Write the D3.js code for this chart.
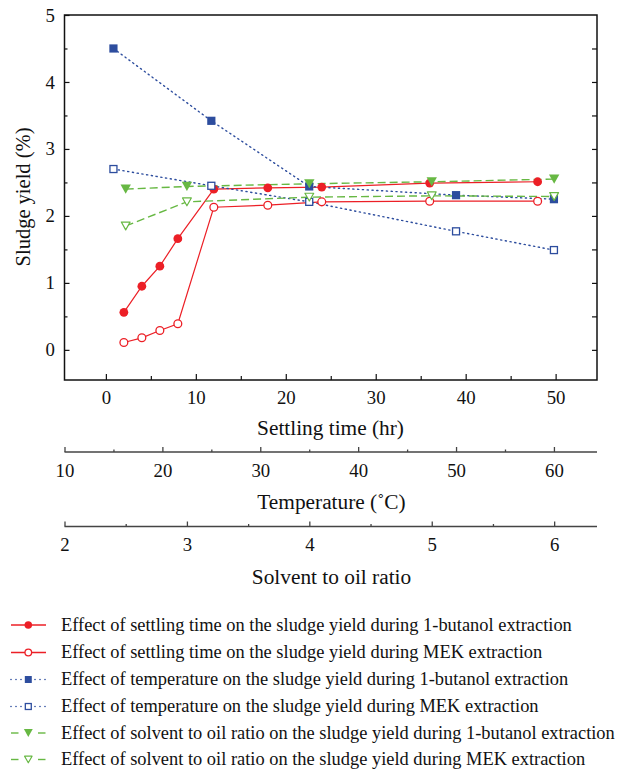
<!DOCTYPE html>
<html><head><meta charset="utf-8">
<script src="https://cdn.jsdelivr.net/npm/d3@7"></script>
<style>
html,body{margin:0;padding:0;background:#fff;}
</style></head>
<body><svg id="c" width="628" height="771"></svg>
<script>
// ---- data ----
const settlingTime = [2, 4, 6, 8, 12, 18, 24, 36, 48];
const butanolSettling = [0.56, 0.95, 1.25, 1.66, 2.40, 2.42, 2.43, 2.49, 2.51];
const mekSettling = [0.11, 0.18, 0.29, 0.39, 2.13, 2.16, 2.21, 2.22, 2.22];
const temperature = [15, 25, 35, 50, 60];
const butanolTemp = [4.50, 3.42, 2.44, 2.31, 2.25];
const mekTemp = [2.70, 2.45, 2.21, 1.77, 1.49];
const solventRatio = [2.5, 3, 4, 5, 6];
const butanolSolvent = [2.40, 2.44, 2.48, 2.51, 2.55];
const mekSolvent = [1.85, 2.21, 2.28, 2.30, 2.29];
const yTicks = [0, 1, 2, 3, 4, 5];
const settlingTicks = [0, 10, 20, 30, 40, 50];
const tempTicks = [10, 20, 30, 40, 50, 60];
const ratioTicks = [2, 3, 4, 5, 6];
const legendLabels = [
  "Effect of settling time on the sludge yield during 1-butanol extraction",
  "Effect of settling time on the sludge yield during MEK extraction",
  "Effect of temperature on the sludge yield during 1-butanol extraction",
  "Effect of temperature on the sludge yield during MEK extraction",
  "Effect of solvent to oil ratio on the sludge yield during 1-butanol extraction",
  "Effect of solvent to oil ratio on the sludge yield during MEK extraction"
];

const FONT = "'Liberation Serif'";
const RED = "#ec1f26", BLUE = "#2d4d9e", GREEN = "#67b843";
const L = 64.5, R = 597, T = 15, B = 380;
const svg = d3.select("#c");

function fitSize(str, target, base) {
  const t = svg.append("text").style("font-family", FONT).attr("font-size", base).text(str);
  const w = t.node().getComputedTextLength();
  t.remove();
  return base * target / w;
}
const legendSize = fitSize(legendLabels[4], 554, 16);
const titleSize = fitSize("Settling time (hr)", 147, 16);
const yTitleSize = fitSize("Sludge yield (%)", 139, 16);
const tickSize = fitSize("50", 18.8, 16);

const y = d3.scaleLinear().domain([-0.45, 5]).range([B, T]);
const xS = d3.scaleLinear().domain([-4.6, 54.6]).range([L, R]);
const xT = d3.scaleLinear().domain([10, 64.4]).range([L, R]);
const xR = d3.scaleLinear().domain([2, 6.35]).range([L, R]);

function styleAxis(g, col) {
  g.attr("font-family", null);
  g.select(".domain").remove();
  g.selectAll("line").attr("stroke", col).attr("stroke-width", 1.2);
  g.selectAll("text").attr("font-size", tickSize).style("font-family", FONT).attr("fill", "#111");
}

styleAxis(svg.append("g").attr("transform", `translate(${L},0)`)
  .call(d3.axisLeft(y).tickValues(yTicks).tickSize(-5).tickPadding(9.5).tickFormat(d3.format("d"))), "#111");
styleAxis(svg.append("g").attr("transform", `translate(${L},0)`)
  .call(d3.axisLeft(y).tickValues([0.5, 1.5, 2.5, 3.5, 4.5]).tickSize(-3).tickFormat("")), "#111");
styleAxis(svg.append("g").attr("transform", `translate(${R},0)`)
  .call(d3.axisRight(y).tickValues(d3.range(0, 5, 0.5)).tickSize(-5).tickFormat("")), "#111");

styleAxis(svg.append("g").attr("transform", `translate(0,${B})`)
  .call(d3.axisBottom(xS).tickValues(settlingTicks).tickSize(-6).tickPadding(10.5).tickFormat(d3.format("d"))), "#111");
styleAxis(svg.append("g").attr("transform", `translate(0,${B})`)
  .call(d3.axisBottom(xS).tickValues([5, 15, 25, 35, 45]).tickSize(-4).tickFormat("")), "#111");

svg.append("rect").attr("x", L).attr("y", T).attr("width", R - L).attr("height", B - T)
  .attr("fill", "none").attr("stroke", "#111").attr("stroke-width", 1.5);

function title(x, yy, txt, rot, size) {
  const t = svg.append("text").attr("text-anchor", "middle").attr("font-size", size || titleSize)
    .style("font-family", FONT).attr("fill", "#111").text(txt);
  if (rot) t.attr("transform", `translate(${x},${yy}) rotate(-90)`);
  else t.attr("x", x).attr("y", yy);
}
title(330.5, 435, "Settling time (hr)");

function extraAxis(scale, yy, major, minor, titleY, txt) {
  const g = svg.append("g").attr("transform", `translate(0,${yy})`)
    .call(d3.axisBottom(scale).tickValues(major).tickSize(-5).tickPadding(11.5).tickFormat(d3.format("d")));
  styleAxis(g, "#444");
  g.selectAll("line").attr("stroke-width", 1.3);
  const m = svg.append("g").attr("transform", `translate(0,${yy})`)
    .call(d3.axisBottom(scale).tickValues(minor).tickSize(-2.5).tickFormat(""));
  styleAxis(m, "#444");
  m.selectAll("line").attr("stroke-width", 1.3);
  svg.append("line").attr("x1", L).attr("x2", R).attr("y1", yy).attr("y2", yy)
    .attr("stroke", "#444").attr("stroke-width", 1.6);
  title(331.5, titleY, txt);
}
extraAxis(xT, 452, tempTicks, [15, 25, 35, 45, 55], 509, "Temperature (\u02DAC)");
extraAxis(xR, 526.5, ratioTicks, [2.5, 3.5, 4.5, 5.5], 584, "Solvent to oil ratio");

title(30, 197, "Sludge yield (%)", true, yTitleSize);

const series = [
  {x: settlingTime, v: butanolSettling, sc: xS, col: RED, dash: null, sym: "circle", fill: true},
  {x: settlingTime, v: mekSettling, sc: xS, col: RED, dash: null, sym: "circle", fill: false},
  {x: temperature, v: butanolTemp, sc: xT, col: BLUE, dash: "1.2,3.6", sym: "square", fill: true},
  {x: temperature, v: mekTemp, sc: xT, col: BLUE, dash: "1.2,3.6", sym: "square", fill: false},
  {x: solventRatio, v: butanolSolvent, sc: xR, col: GREEN, dash: "8,4", sym: "tri", fill: true},
  {x: solventRatio, v: mekSolvent, sc: xR, col: GREEN, dash: "8,4", sym: "tri", fill: false}
];

function drawMarker(g, s, cx, cy, scale) {
  scale = scale || 1;
  if (s.sym === "circle") {
    g.append("circle").attr("cx", cx).attr("cy", cy).attr("r", (s.fill ? 4.4 : 3.9) * scale)
      .attr("fill", s.fill ? s.col : "#fff").attr("stroke", s.col).attr("stroke-width", s.fill ? 0 : 1.3);
  } else if (s.sym === "square") {
    const h = (s.fill ? 4.1 : 3.5) * scale;
    g.append("rect").attr("x", cx - h).attr("y", cy - h).attr("width", 2 * h).attr("height", 2 * h)
      .attr("fill", s.fill ? s.col : "#fff").attr("stroke", s.col).attr("stroke-width", s.fill ? 0 : 1.3);
  } else {
    const w = (s.fill ? 5.2 : 4.4) * scale, hh = (s.fill ? 4.6 : 3.9) * scale;
    g.append("path").attr("d", `M${cx - w},${cy - hh}L${cx + w},${cy - hh}L${cx},${cy + hh}Z`)
      .attr("fill", s.fill ? s.col : "#fff").attr("stroke", s.col).attr("stroke-width", s.fill ? 0 : 1.2)
      .attr("stroke-linejoin", "round");
  }
}

const lines = svg.append("g"), marks = svg.append("g");
series.forEach(s => {
  const pts = s.x.map((xx, i) => [s.sc(xx), y(s.v[i])]);
  lines.append("path").attr("d", d3.line()(pts)).attr("fill", "none").attr("stroke", s.col)
    .attr("stroke-width", s.dash ? 1.4 : 1.2).attr("stroke-dasharray", s.dash)
    .attr("stroke-linecap", s.sym === "square" ? "round" : "butt");
});
series.forEach(s => {
  s.x.forEach((xx, i) => drawMarker(marks, s, s.sc(xx), y(s.v[i])));
});

const lg = svg.append("g");
const rowY = [625, 652.5, 679.5, 706.5, 733, 759.5];
series.forEach((s, i) => {
  const yy = rowY[i];
  if (!s.dash) {
    lg.append("line").attr("x1", 11).attr("x2", 46).attr("y1", yy).attr("y2", yy)
      .attr("stroke", s.col).attr("stroke-width", 1.3);
  } else if (s.sym === "square") {
    [11, 16, 21, 35, 40, 45].forEach(px => lg.append("circle").attr("cx", px).attr("cy", yy).attr("r", 0.8).attr("fill", s.col));
  } else {
    lg.append("line").attr("x1", 11).attr("x2", 18.5).attr("y1", yy).attr("y2", yy).attr("stroke", s.col).attr("stroke-width", 1.4);
    lg.append("line").attr("x1", 38).attr("x2", 45.5).attr("y1", yy).attr("y2", yy).attr("stroke", s.col).attr("stroke-width", 1.4);
  }
  drawMarker(lg, s, 28.3, yy, 0.85);
  lg.append("text").attr("x", 61).attr("y", yy + 5.5).attr("font-size", legendSize)
    .style("font-family", FONT).attr("fill", "#111").text(legendLabels[i]);
});
</script></body></html>
